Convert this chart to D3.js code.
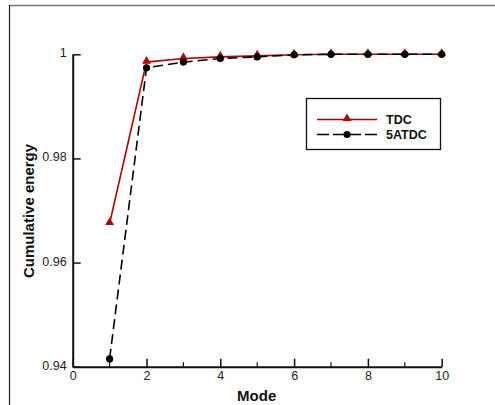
<!DOCTYPE html>
<html lang="en">
<head>
<meta charset="utf-8">
<title>Cumulative energy</title>
<script src="https://cdn.jsdelivr.net/npm/d3@7"></script>
<style>
    body { margin: 0; background: #fff; }
    svg { display: block; font-family: "Liberation Sans", Arial, sans-serif; }
    .tick text { font-size: 12.5px; fill: #222; }
    .axis-title { font-size: 15px; font-weight: bold; fill: #111; }
    .legend text { font-size: 12.5px; font-weight: bold; fill: #111; }
</style>
</head>
<body>
<div id="chart"></div>
<script>
    // data
    var modes = [1, 2, 3, 4, 5, 6, 7, 8, 9, 10];
    var tdc = [0.9675, 0.9985, 0.9992, 0.9995, 0.9997, 0.9999, 1.0, 1.0, 1.0, 1.0];
    var atdc5 = [0.9415, 0.9974, 0.9985, 0.9992, 0.9995, 0.9999, 1.0, 1.0, 1.0, 1.0];
    var seriesNames = ["TDC", "5ATDC"];
    var xTicks = [0, 2, 4, 6, 8, 10];
    var xMinor = [1, 3, 5, 7, 9];
    var yTicks = [0.94, 0.96, 0.98, 1];

    var W = 495, H = 405;
    var red = "#b30000";

    var svg = d3.select("#chart").append("svg")
        .attr("width", W).attr("height", H);

    // outer frame (top and left only visible)
    svg.append("line").attr("x1", 9.5).attr("x2", W).attr("y1", 5.5).attr("y2", 5.5)
        .attr("stroke", "#777").attr("stroke-width", 1.5);
    svg.append("line").attr("x1", 9.5).attr("x2", 9.5).attr("y1", 5).attr("y2", H)
        .attr("stroke", "#222").attr("stroke-width", 1.2);

    var x = d3.scaleLinear().domain([0, 10]).range([72.7, 441.7]);
    var y = d3.scaleLinear().domain([0.94, 1]).range([366.7, 54.3]);

    // x axis, ticks pointing inward
    var xAxis = svg.append("g").attr("transform", "translate(0," + y(0.94) + ")")
        .call(d3.axisBottom(x).tickValues(xTicks).tickSizeInner(-8).tickSizeOuter(0)
            .tickFormat(d3.format("d")));
    xAxis.select(".domain").attr("stroke", "#111").attr("stroke-width", 2);
    xAxis.selectAll(".tick line").attr("stroke", "#111").attr("stroke-width", 1.5);
    xAxis.selectAll(".tick text").attr("y", 4).attr("dy", "0.71em");
    xAxis.selectAll(".minor").data(xMinor).enter().append("line")
        .attr("x1", function(d) { return x(d) }).attr("x2", function(d) { return x(d) })
        .attr("y1", 0).attr("y2", -4.5)
        .attr("stroke", "#111").attr("stroke-width", 1.2);

    // y axis
    var yAxis = svg.append("g").attr("transform", "translate(" + x(0) + ",0)")
        .call(d3.axisLeft(y).tickValues(yTicks).tickSizeInner(-8).tickSizeOuter(0)
            .tickFormat(function(d) { return d === 1 ? "1" : d3.format(".2f")(d) }));
    yAxis.select(".domain").attr("stroke", "#111").attr("stroke-width", 2);
    yAxis.selectAll(".tick line").attr("stroke", "#111").attr("stroke-width", 1.5);
    yAxis.selectAll(".tick text").attr("x", -6).attr("dy", "0.2em");

    svg.append("text").attr("class", "axis-title")
        .attr("x", (x(0) + x(10)) / 2 - 0.5).attr("y", 401)
        .attr("text-anchor", "middle").text("Mode");
    svg.append("text").attr("class", "axis-title")
        .attr("transform", "translate(34," + 211 + ") rotate(-90)")
        .attr("text-anchor", "middle").text("Cumulative energy");

    var line = d3.line()
        .x(function(d) { return x(d[0]) })
        .y(function(d) { return y(d[1]) });
    var tri = d3.symbol().type(d3.symbolTriangle).size(34);

    var tdcPts = d3.zip(modes, tdc);
    var atdcPts = d3.zip(modes, atdc5);

    svg.append("path").datum(tdcPts).attr("d", line)
        .attr("fill", "none").attr("stroke", red).attr("stroke-width", 1.6);
    svg.append("path").datum(atdcPts).attr("d", line)
        .attr("fill", "none").attr("stroke", "#000").attr("stroke-width", 1.6)
        .attr("stroke-dasharray", "10,5");

    svg.selectAll(".tdcpt").data(tdcPts).enter().append("path")
        .attr("class", "tdcpt")
        .attr("transform", function(d) { return "translate(" + x(d[0]) + "," + (y(d[1]) - 1) + ")" })
        .attr("d", tri).attr("fill", red);
    svg.selectAll(".atdcpt").data(atdcPts).enter().append("circle")
        .attr("class", "atdcpt")
        .attr("cx", function(d) { return x(d[0]) })
        .attr("cy", function(d) { return y(d[1]) })
        .attr("r", 3.6).attr("fill", "#000");

    // legend
    var lg = svg.append("g").attr("class", "legend");
    lg.append("rect").attr("x", 306.5).attr("y", 98.5).attr("width", 134).attr("height", 51)
        .attr("fill", "#fff").attr("stroke", "#111").attr("stroke-width", 1.3);
    var rows = [
        { name: seriesNames[0], y: 119.5, color: red, dash: null, mark: "tri" },
        { name: seriesNames[1], y: 134.5, color: "#000", dash: "12,4", mark: "circ" }
    ];
    rows.forEach(function(r) {
        lg.append("line").attr("x1", 317).attr("x2", 377).attr("y1", r.y).attr("y2", r.y)
            .attr("stroke", r.color).attr("stroke-width", 1.6)
            .attr("stroke-dasharray", r.dash);
        if (r.mark === "tri") {
            lg.append("path").attr("transform", "translate(347," + (r.y - 1) + ")")
                .attr("d", tri).attr("fill", r.color);
        } else {
            lg.append("circle").attr("cx", 347).attr("cy", r.y).attr("r", 3.6).attr("fill", r.color);
        }
        lg.append("text").attr("x", 386).attr("y", r.y + 4.5).text(r.name);
    });
</script>
</body>
</html>
